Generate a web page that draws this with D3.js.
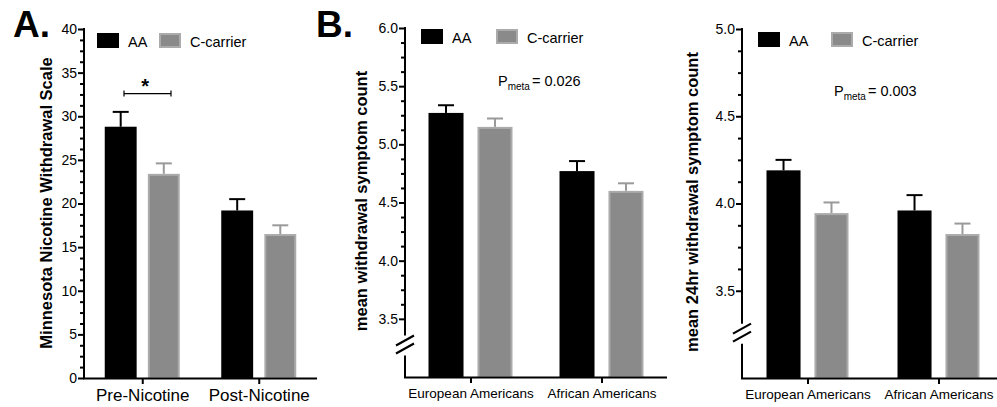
<!DOCTYPE html>
<html>
<head>
<meta charset="utf-8">
<script src="https://cdn.jsdelivr.net/npm/d3@7"></script>
<style>
  body { margin: 0; background: #fff; }
  svg { display: block; font-family: "Liberation Sans", Arial, sans-serif; }
</style>
</head>
<body>
<script>
// series shown in every panel
const seriesNames = ["AA", "C-carrier"];

// panel A: Minnesota Nicotine Withdrawal Scale
const catsA = ["Pre-Nicotine", "Post-Nicotine"];
const meanAA_A = [28.8, 19.2];
const meanC_A = [23.4, 16.5];
const errAA_A = [1.7, 1.3];
const errC_A = [1.2, 1.0];
const ticksA = [0, 5, 10, 15, 20, 25, 30, 35, 40];

// panel B: mean withdrawal symptom count
const catsB = ["European Americans", "African Americans"];
const meanAA_B = [5.27, 4.77];
const meanC_B = [5.15, 4.60];
const errAA_B = [0.066, 0.086];
const errC_B = [0.072, 0.065];
const ticksB = [3.5, 4.0, 4.5, 5.0, 5.5, 6.0];

// panel C: mean 24hr withdrawal symptom count
const catsC = ["European Americans", "African Americans"];
const meanAA_C = [4.19, 3.96];
const meanC_C = [3.945, 3.825];
const errAA_C = [0.06, 0.088];
const errC_C = [0.061, 0.06];
const ticksC = [3.5, 4.0, 4.5, 5.0];

const W = 997, H = 407;
const svg = d3.select("body").append("svg").attr("width", W).attr("height", H);

const colors = { fill: ["#000", "#8a8a8a"], stroke: ["#000", "#ababab"], err: ["#000", "#9a9a9a"] };

function drawPanel(p) {
    const g = svg.append("g");

    const y = d3.scaleLinear().domain(p.yDomain).range([p.bottom, p.top]);
    const x = d3.scalePoint().domain(p.cats).range([p.left, p.right]).padding(0.5);
    const sub = d3.scaleBand().domain(seriesNames).range([-p.groupHalf, p.groupHalf]).paddingInner(p.innerPad);

    // bars
    const rows = [];
    p.cats.forEach((c, i) => {
        rows.push({ cat: c, s: 0, v: p.means[0][i], e: p.errs[0][i] });
        rows.push({ cat: c, s: 1, v: p.means[1][i], e: p.errs[1][i] });
    });

    // error bars (upper only), drawn before bars so the stem hides inside
    const eb = g.selectAll(".err").data(rows).enter().append("g");
    eb.append("line")
        .attr("x1", d => x(d.cat) + sub(seriesNames[d.s]) + sub.bandwidth() / 2)
        .attr("x2", d => x(d.cat) + sub(seriesNames[d.s]) + sub.bandwidth() / 2)
        .attr("y1", d => y(d.v)).attr("y2", d => y(d.v + d.e))
        .attr("stroke", d => colors.err[d.s]).attr("stroke-width", 2);
    eb.append("line")
        .attr("x1", d => x(d.cat) + sub(seriesNames[d.s]) + sub.bandwidth() / 2 - 8)
        .attr("x2", d => x(d.cat) + sub(seriesNames[d.s]) + sub.bandwidth() / 2 + 8)
        .attr("y1", d => y(d.v + d.e)).attr("y2", d => y(d.v + d.e))
        .attr("stroke", d => colors.err[d.s]).attr("stroke-width", 2);

    g.selectAll(".bar").data(rows).enter().append("rect")
        .attr("x", d => x(d.cat) + sub(seriesNames[d.s]) + (d.s ? 1 : 0))
        .attr("width", d => sub.bandwidth() - (d.s ? 2 : 0))
        .attr("y", d => y(d.v) + (d.s ? 1 : 0))
        .attr("height", d => p.bottom - y(d.v) - (d.s ? 1 : 0))
        .attr("fill", d => colors.fill[d.s])
        .attr("stroke", d => d.s ? colors.stroke[1] : "none")
        .attr("stroke-width", 2);

    // y axis: major ticks with labels, minor ticks
    const yAxis = d3.axisLeft(y).tickValues(p.ticks).tickSize(6).tickPadding(1)
        .tickFormat(p.fmt);
    const ya = g.append("g").attr("transform", `translate(${p.left},0)`).call(yAxis);
    ya.select(".domain").remove();
    ya.selectAll(".tick line").attr("stroke", "#000").attr("stroke-width", 2);
    ya.selectAll(".tick text").attr("font-size", p.tickFont).attr("fill", "#000")
        .attr("font-family", "Liberation Sans, Arial, sans-serif");

    g.append("g").attr("transform", `translate(${p.left},0)`)
        .call(d3.axisLeft(y).tickValues(p.minor).tickSize(4).tickFormat(""))
        .call(a => a.select(".domain").remove())
        .selectAll(".tick line").attr("stroke", "#000").attr("stroke-width", 2);

    // y axis line, possibly broken
    if (p.breakAt) {
        const yb = y(p.breakAt);
        g.append("line").attr("x1", p.left).attr("x2", p.left)
            .attr("y1", p.top - 1).attr("y2", yb - 9).attr("stroke", "#000").attr("stroke-width", 2);
        g.append("line").attr("x1", p.left).attr("x2", p.left)
            .attr("y1", yb + 11).attr("y2", p.bottom + 1).attr("stroke", "#000").attr("stroke-width", 2);
        [-4, 4].forEach(o => {
            g.append("line")
                .attr("x1", p.left - 9).attr("y1", yb + o + 5)
                .attr("x2", p.left + 9).attr("y2", yb + o - 5)
                .attr("stroke", "#000").attr("stroke-width", 2.2);
        });
    } else {
        g.append("line").attr("x1", p.left).attr("x2", p.left)
            .attr("y1", p.top - 1).attr("y2", p.bottom + 1).attr("stroke", "#000").attr("stroke-width", 2);
    }

    // x axis
    const xa = g.append("g").attr("transform", `translate(0,${p.bottom})`)
        .call(d3.axisBottom(x).tickSize(6).tickPadding(5));
    xa.select(".domain").attr("stroke", "#000").attr("stroke-width", 2)
        .attr("d", `M${p.left - 1},0.5H${p.axisEnd}`);
    xa.selectAll(".tick line").attr("stroke", "#000").attr("stroke-width", 2);
    xa.selectAll(".tick text").attr("font-size", p.catFont).attr("fill", "#000")
        .attr("font-family", "Liberation Sans, Arial, sans-serif");

    // y label
    g.append("text")
        .attr("transform", `translate(${p.labelX},${p.labelY}) rotate(-90)`)
        .attr("text-anchor", "middle").attr("font-weight", "bold")
        .attr("font-size", p.labelFont).text(p.label);

    // legend
    seriesNames.forEach((s, i) => {
        const lx = p.legendX[i];
        g.append("rect").attr("x", lx + (i ? 1 : 0)).attr("y", p.legendY + (i ? 1 : 0))
            .attr("width", 22 - (i ? 2 : 0)).attr("height", 15 - (i ? 2 : 0))
            .attr("fill", colors.fill[i])
            .attr("stroke", i ? colors.stroke[1] : "none").attr("stroke-width", 2);
        g.append("text").attr("x", lx + 31).attr("y", p.legendY + 14)
            .attr("font-size", 14.5).text(s);
    });

    // panel letter
    if (p.letter) {
        g.append("text").attr("x", p.letter[1]).attr("y", 37)
            .attr("font-size", 37).attr("font-weight", "bold").text(p.letter[0]);
    }

    // meta-analysis p value
    if (p.pmeta) {
        const t = g.append("text").attr("x", p.pmeta[1]).attr("y", p.pmeta[2]).attr("font-size", 14.5);
        t.append("tspan").text("P");
        t.append("tspan").attr("font-size", 10).attr("dy", 4).text("meta");
        t.append("tspan").attr("dy", -4).attr("dx", 2).text("= " + p.pmeta[0]);
    }
    return { g, x, y, sub };
}

// panel A
const pa = drawPanel({
    cats: catsA, means: [meanAA_A, meanC_A], errs: [errAA_A, errC_A],
    yDomain: [0, 40], top: 29, bottom: 378, left: 84, right: 317, axisEnd: 317,
    groupHalf: 37.5, innerPad: 0.26,
    ticks: ticksA, minor: d3.range(0, 40.01, 1.25).filter(v => v % 5 !== 0), fmt: d3.format("d"),
    tickFont: 14, catFont: 17,
    label: "Minnesota Nicotine Withdrawal Scale", labelX: 52, labelY: 203, labelFont: 16.5,
    legendX: [97, 159], legendY: 33, letter: ["A.", 13]
});

// significance bracket between the pre-nicotine bars
const sigY = pa.y(32.6);
pa.g.append("line").attr("x1", 124).attr("x2", 171).attr("y1", sigY).attr("y2", sigY)
    .attr("stroke", "#000").attr("stroke-width", 1.2);
[124, 171].forEach(xx => pa.g.append("line").attr("x1", xx).attr("x2", xx)
    .attr("y1", sigY - 3).attr("y2", sigY + 3).attr("stroke", "#000").attr("stroke-width", 1.2));
pa.g.append("text").attr("x", pa.x(catsA[0]) + 3).attr("y", sigY - 1).attr("text-anchor", "middle")
    .attr("font-size", 20).attr("font-weight", "bold").text("*");

// panel B
drawPanel({
    cats: catsB, means: [meanAA_B, meanC_B], errs: [errAA_B, errC_B],
    yDomain: [3.0, 6.0], top: 28, bottom: 377, left: 405, right: 667, axisEnd: 667,
    groupHalf: 42, innerPad: 0.285, breakAt: 3.28,
    ticks: ticksB, minor: d3.range(3.5, 6.001, 0.125).filter(v => Math.abs(v * 2 - Math.round(v * 2)) > 1e-6),
    fmt: d3.format(".1f"), tickFont: 14, catFont: 13.5,
    label: "mean withdrawal symptom count", labelX: 367, labelY: 201, labelFont: 16.5,
    legendX: [421, 496], legendY: 29, letter: ["B.", 316], pmeta: ["0.026", 498, 86]
});

// panel C
drawPanel({
    cats: catsC, means: [meanAA_C, meanC_C], errs: [errAA_C, errC_C],
    yDomain: [3.0, 5.0], top: 29, bottom: 378, left: 742, right: 1004, axisEnd: 1004,
    groupHalf: 41, innerPad: 0.29, breakAt: 3.26,
    ticks: ticksC, minor: d3.range(3.5, 5.001, 0.125).filter(v => Math.abs(v * 2 - Math.round(v * 2)) > 1e-6),
    fmt: d3.format(".1f"), tickFont: 14, catFont: 13.5,
    label: "mean 24hr withdrawal symptom count", labelX: 698, labelY: 202, labelFont: 16.5,
    legendX: [758, 831], legendY: 32, pmeta: ["0.003", 834, 96]
});
</script>
</body>
</html>
